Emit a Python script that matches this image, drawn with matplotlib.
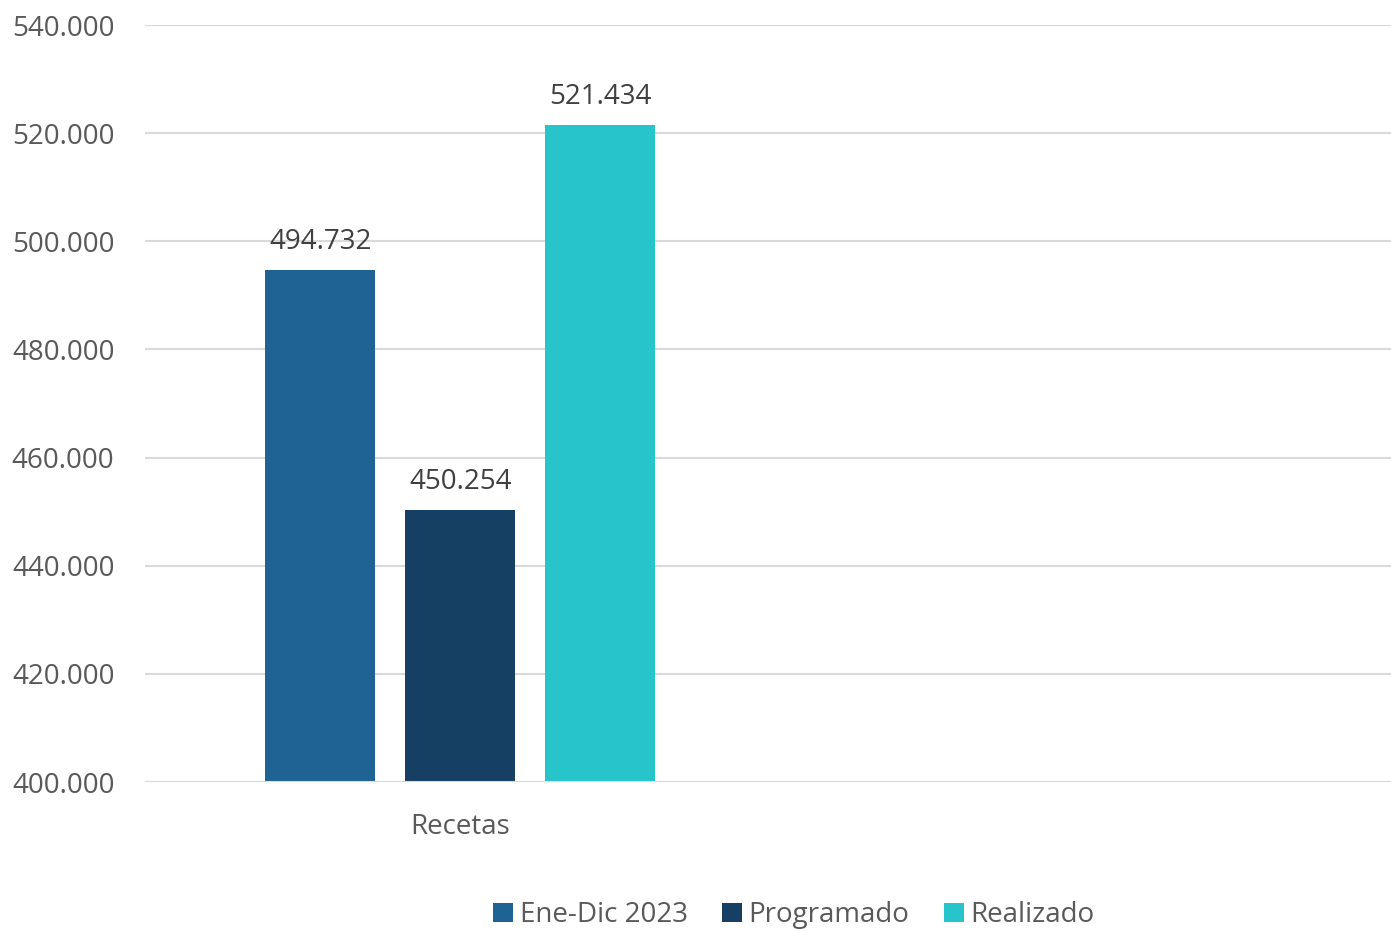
import matplotlib
matplotlib.use("Agg")
import matplotlib.pyplot as plt
import numpy as np
from matplotlib.patches import Patch

categories = ["Recetas", ""]
series_names = ["Ene-Dic 2023", "Programado", "Realizado"]
values = {
    "Ene-Dic 2023": [494732, np.nan],
    "Programado": [450254, np.nan],
    "Realizado": [521434, np.nan],
}
colors = ["#1F6394", "#154063", "#27C4CB"]
yticks = list(range(400000, 540001, 20000))

plt.rcParams['font.family'] = ['Open Sans', 'DejaVu Sans']
FS = 20

fig = plt.figure(figsize=(13.91, 9.31), dpi=100)
ax = fig.add_axes([145/1391, 1-782/931, (1391-145)/1391, (782-25)/931])

x = np.arange(len(categories))
bw = 0.1766
step = 0.2247
for i, name in enumerate(series_names):
    vals = values[name]
    pos = x + (i - 1) * step
    ax.bar(pos, vals, width=bw, color=colors[i], zorder=3)
    for xp, v in zip(pos, vals):
        if not np.isnan(v):
            ax.text(xp, v + 2600, f"{v:,.0f}".replace(",", "."), ha="center", va="bottom",
                    fontsize=FS, color="#404040")

ax.set_xlim(-0.506, 1.494)
ax.set_ylim(400000, 540000)
ax.set_yticks(yticks)
ax.set_yticklabels([f"{t:,}".replace(",", ".") for t in yticks], fontsize=FS, color="#595959")
ax.set_xticks(x)
ax.set_xticklabels(categories, fontsize=FS, color="#595959")
ax.tick_params(axis="y", length=0, pad=22)
ax.tick_params(axis="x", length=0, pad=22)
ax.yaxis.grid(True, color="#D9D9D9", linewidth=1.5, zorder=0)
for s in ax.spines.values():
    s.set_visible(False)
ax.axhline(400000, color="#D9D9D9", linewidth=1.5, zorder=4)

handles = [Patch(facecolor=c, label=n) for c, n in zip(colors, series_names)]
leg = fig.legend(handles=handles, loc="center", bbox_to_anchor=(794/1391, 1-915/931), ncol=3,
                 frameon=False, fontsize=FS, handlelength=0.7, handleheight=0.7,
                 handletextpad=0.25, columnspacing=1.25)
for t in leg.get_texts():
    t.set_color("#595959")

fig.savefig("out.png", dpi=100)
